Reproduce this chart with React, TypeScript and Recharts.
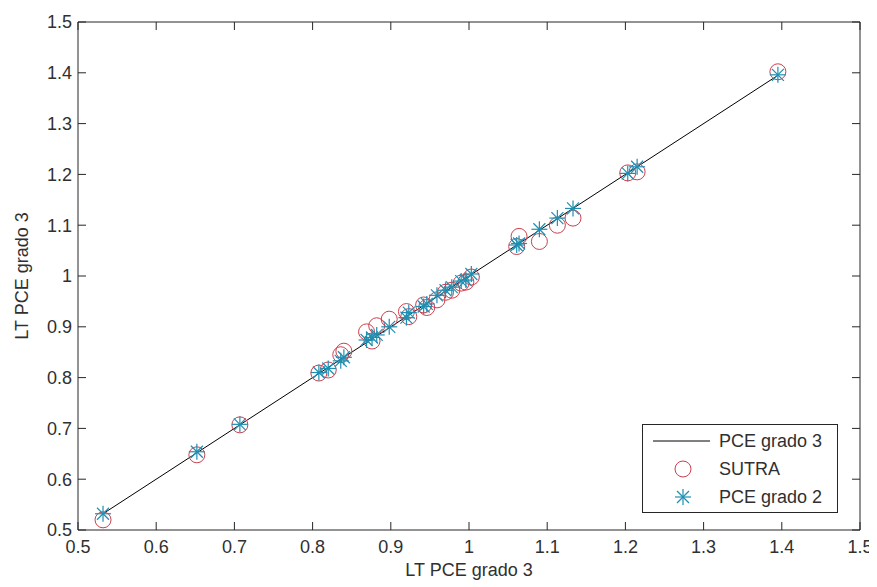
import React from 'react';
import { ComposedChart, XAxis, YAxis, Line, Scatter, Legend } from 'recharts';

// LT PCE grado 3 (x) values
const xGrado3 = [0.532, 0.652, 0.707, 0.808, 0.820, 0.836, 0.840, 0.869, 0.876, 0.882, 0.898, 0.920, 0.923, 0.942, 0.946, 0.959, 0.970, 0.978, 0.990, 0.996, 1.003, 1.061, 1.064, 1.090, 1.113, 1.133, 1.203, 1.215, 1.395];
// SUTRA values
const ySutra = [0.520, 0.648, 0.707, 0.809, 0.815, 0.845, 0.852, 0.890, 0.872, 0.902, 0.915, 0.930, 0.920, 0.943, 0.938, 0.953, 0.968, 0.972, 0.986, 0.988, 0.998, 1.058, 1.078, 1.068, 1.100, 1.114, 1.203, 1.205, 1.402];
// PCE grado 2 values
const yGrado2 = [0.532, 0.654, 0.708, 0.810, 0.818, 0.833, 0.840, 0.874, 0.879, 0.884, 0.900, 0.918, 0.928, 0.940, 0.945, 0.962, 0.972, 0.978, 0.990, 0.992, 1.004, 1.061, 1.064, 1.092, 1.114, 1.133, 1.202, 1.215, 1.396];

const axisTicks = [0.5, 0.6, 0.7, 0.8, 0.9, 1, 1.1, 1.2, 1.3, 1.4, 1.5];
const tickLabels = ['0.5', '0.6', '0.7', '0.8', '0.9', '1', '1.1', '1.2', '1.3', '1.4', '1.5'];
const seriesNames = ['PCE grado 3', 'SUTRA', 'PCE grado 2'];
const axisTitle = 'LT PCE grado 3';

const lineData = [...xGrado3].sort((a, b) => a - b).map((x) => ({ x, y: x }));
const sutraData = xGrado3.map((x, i) => ({ x, y: ySutra[i] }));
const grado2Data = xGrado3.map((x, i) => ({ x, y: yGrado2[i] }));

const FONT = 'Arial, "Liberation Sans", sans-serif';
const TXT = '#303030';
const AX = '#262626';
const RED = '#cc3f4c';
const TEAL = '#1e8fb2';
const TL = 8;

const labelFor = (v: number) => {
  const i = axisTicks.findIndex((t) => Math.abs(t - v) < 1e-9);
  return i >= 0 ? tickLabels[i] : String(v);
};

const BottomTick = (p: any) => (
  <g>
    <line x1={p.x} y1={p.y} x2={p.x} y2={p.y - TL} stroke={AX} strokeWidth={1} />
    <text x={p.x} y={p.y + 23} textAnchor="middle" fontSize={18} fontFamily={FONT} fill={TXT}>
      {labelFor(p.payload.value)}
    </text>
  </g>
);
const LeftTick = (p: any) => (
  <g>
    <line x1={p.x} y1={p.y} x2={p.x + TL} y2={p.y} stroke={AX} strokeWidth={1} />
    <text x={p.x - 6} y={p.y} dy="0.36em" textAnchor="end" fontSize={18} fontFamily={FONT} fill={TXT}>
      {labelFor(p.payload.value)}
    </text>
  </g>
);
const TopTick = (p: any) => (
  <line x1={p.x} y1={p.y} x2={p.x} y2={p.y + TL} stroke={AX} strokeWidth={1} />
);
const RightTick = (p: any) => (
  <line x1={p.x} y1={p.y} x2={p.x - TL} y2={p.y} stroke={AX} strokeWidth={1} />
);

const YTitle = (p: any) => {
  const vb = p.viewBox || { x: 0, y: 14, width: 70, height: 508 };
  const cx = vb.x + 14;
  const cy = vb.y + vb.height / 2;
  return (
    <text x={cx} y={cy} transform={`rotate(-90, ${cx}, ${cy})`} textAnchor="middle" dominantBaseline="central" fontSize={18} fontFamily={FONT} fill={TXT}>
      {axisTitle}
    </text>
  );
};
const XTitle = (p: any) => {
  const vb = p.viewBox || { x: 70, y: 522, width: 782, height: 57 };
  return (
    <text x={vb.x + vb.width / 2} y={vb.y + 46} textAnchor="middle" fontSize={18} fontFamily={FONT} fill={TXT}>
      {axisTitle}
    </text>
  );
};

const CircleMark = (p: any) => (
  <circle cx={p.cx} cy={p.cy} r={8} fill="none" stroke={RED} strokeWidth={1} />
);
const StarShape = ({ cx, cy, c }: { cx: number; cy: number; c: string }) => {
  const r = 8;
  const d = 6;
  return (
    <g stroke={c} strokeWidth={1.2}>
      <line x1={cx - r} y1={cy} x2={cx + r} y2={cy} />
      <line x1={cx} y1={cy - r} x2={cx} y2={cy + r} />
      <line x1={cx - d} y1={cy - d} x2={cx + d} y2={cy + d} />
      <line x1={cx - d} y1={cy + d} x2={cx + d} y2={cy - d} />
    </g>
  );
};
const StarMark = (p: any) => <StarShape cx={p.cx} cy={p.cy} c={TEAL} />;

const LegendBox = () => (
  <svg width={196} height={89} style={{ display: 'block' }}>
    <rect x={0.5} y={0.5} width={195} height={88} fill="#fff" stroke={AX} strokeWidth={1} />
    <line x1={11} y1={17} x2={68} y2={17} stroke="#000" strokeWidth={1} />
    <circle cx={41} cy={45} r={8} fill="none" stroke={RED} strokeWidth={1} />
    <StarShape cx={41} cy={73} c={TEAL} />
    {seriesNames.map((n, i) => (
      <text key={n} x={77} y={17 + i * 28} dominantBaseline="central" fontSize={18} fontFamily={FONT} fill={TXT}>
        {n}
      </text>
    ))}
  </svg>
);

export default function App() {
  return (
    <div style={{ width: 869, height: 579 }}>
      <ComposedChart width={869} height={579} margin={{ top: 0, right: 0, bottom: 0, left: 0 }} style={{ overflow: 'visible' }}>
        <XAxis
          xAxisId={0}
          type="number"
          dataKey="x"
          domain={[0.5, 1.5]}
          ticks={axisTicks}
          interval={0}
          allowDataOverflow
          orientation="bottom"
          height={57}
          tickSize={0}
          tickMargin={0}
          tickLine={false}
          tick={<BottomTick />}
          axisLine={{ stroke: AX, strokeWidth: 1 }}
          label={<XTitle />}
        />
        <XAxis
          xAxisId="top"
          type="number"
          dataKey="x"
          domain={[0.5, 1.5]}
          ticks={axisTicks}
          interval={0}
          allowDataOverflow
          orientation="top"
          height={14}
          tickSize={0}
          tickMargin={0}
          tickLine={false}
          tick={<TopTick />}
          axisLine={{ stroke: AX, strokeWidth: 1 }}
        />
        <YAxis
          yAxisId={0}
          type="number"
          domain={[0.5, 1.5]}
          ticks={axisTicks}
          interval={0}
          allowDataOverflow
          orientation="left"
          width={70}
          tickSize={0}
          tickMargin={0}
          tickLine={false}
          tick={<LeftTick />}
          axisLine={{ stroke: AX, strokeWidth: 1 }}
          label={<YTitle />}
        />
        <YAxis
          yAxisId="right"
          type="number"
          domain={[0.5, 1.5]}
          ticks={axisTicks}
          interval={0}
          allowDataOverflow
          orientation="right"
          width={17}
          tickSize={0}
          tickMargin={0}
          tickLine={false}
          tick={<RightTick />}
          axisLine={{ stroke: AX, strokeWidth: 1 }}
        />
        <Line
          name={seriesNames[0]}
          data={lineData}
          dataKey="y"
          type="linear"
          stroke="#000"
          strokeWidth={1}
          dot={false}
          activeDot={false}
          isAnimationActive={false}
        />
        <Scatter name={seriesNames[1]} data={sutraData} dataKey="y" shape={CircleMark} isAnimationActive={false} />
        <Scatter name={seriesNames[2]} data={grado2Data} dataKey="y" shape={StarMark} isAnimationActive={false} />
        <Legend
          layout="horizontal"
          verticalAlign="middle"
          align="center"
          content={() => <LegendBox />}
          wrapperStyle={{ position: 'absolute', left: 634, top: 416, width: 196, height: 89 }}
        />
      </ComposedChart>
    </div>
  );
}
